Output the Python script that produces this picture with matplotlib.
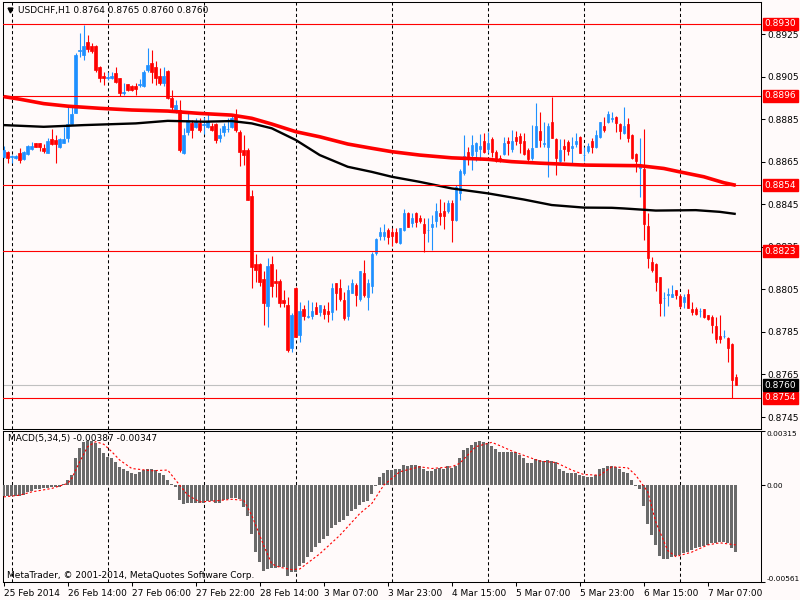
import matplotlib
matplotlib.use("Agg")
import matplotlib.pyplot as plt
import matplotlib.transforms as mtrans
import numpy as np

plt.rcParams['font.family'] = ['DejaVu Sans']

# ---------------- data (USDCHF H1, bars from 25 Feb 2014 22:00) ----------------
opens = [
    .88674, .88698, .88673, .88666, .88690, .88663, .88685, .88710, .88738, .88738,
    .88715, .88693, .88756, .88753, .88720, .88741, .88763, .88828, .88881, .89170,
    .89155, .89215, .89195, .89195, .89097, .89055, .89045, .89043, .89066, .89043,
    .88972, .89014, .89008, .89008, .89012, .89008, .89082, .89116, .89097, .89054,
    .89019, .89077, .88949, .88894, .88894, .88690, .88792, .88831, .88815, .88831,
    .88825, .88815, .88820, .88826, .88761, .88792, .88803, .88815, .88870, .88792,
    .88705, .88705, .88489, .88169, .88169, .88099, .87972, .88169, .88091, .88091,
    .88000, .87977, .87776, .88055, .87835, .87958, .87922, .87926, .87966, .87945,
    .87958, .87948, .87945, .88079, .88055, .88000, .87926, .88034, .88071, .88005,
    .88126, .88016, .88066, .88220, .88303, .88303, .88329, .88318, .88318, .88267,
    .88329, .88411, .88364, .88408, .88384, .88357, .88328, .88345, .88373, .88408,
    .88419, .88419, .88455, .88376, .88502, .88596, .88698, .88682, .88702, .88709,
    .88748, .88709, .88757, .88698, .88666, .88685, .88748, .88709, .88768, .88773,
    .88748, .88705, .88666, .88721, .88795, .88736, .88721, .88836, .88757, .88655,
    .88724, .88742, .88713, .88734, .88765, .88681, .88701, .88748, .88721, .88768,
    .88818, .88836, .88854, .88862, .88826, .88784, .88826, .88776, .88685, .88622,
    .88616, .88348, .88180, .88169, .88110, .88010, .88026, .88016, .88047, .88019,
    .87989, .88028, .87958, .87958, .87947, .87958, .87929, .87919, .87879, .87832,
    .87831, .87823, .87792, .87640]
highs = [
    .88726, .88701, .88682, .88682, .88713, .88701, .88729, .88745, .88741, .88741,
    .88732, .88760, .88804, .88776, .88760, .88815, .88909, .88914, .89160, .89254,
    .89293, .89246, .89207, .89198, .89100, .89074, .89074, .89074, .89097, .89046,
    .89019, .89017, .89011, .89019, .89040, .89082, .89187, .89176, .89124, .89090,
    .89097, .89082, .88988, .88941, .88941, .88808, .88886, .88847, .88855, .88855,
    .88862, .88878, .88831, .88831, .88808, .88831, .88855, .88870, .88898, .88800,
    .88776, .88713, .88517, .88216, .88173, .88136, .88199, .88207, .88146, .88099,
    .88047, .88016, .87937, .88060, .87989, .87977, .88000, .87989, .87989, .87977,
    .87977, .87989, .88079, .88079, .88097, .88036, .88071, .88097, .88081, .88136,
    .88188, .88097, .88227, .88290, .88345, .88357, .88337, .88337, .88337, .88340,
    .88427, .88415, .88408, .88415, .88400, .88384, .88384, .88400, .88455, .88474,
    .88462, .88470, .88470, .88541, .88615, .88776, .88721, .88776, .88745, .88779,
    .88787, .88792, .88765, .88705, .88682, .88768, .88768, .88800, .88795, .88784,
    .88787, .88713, .88823, .88925, .88886, .88839, .88831, .88953, .88761, .88756,
    .88756, .88753, .88768, .88784, .88771, .88721, .88740, .88761, .88800, .88839,
    .88862, .88889, .88886, .88867, .88831, .88906, .88857, .88779, .88690, .88761,
    .88804, .88408, .88204, .88173, .88110, .88039, .88055, .88071, .88047, .88027,
    .88027, .88050, .87992, .87969, .87961, .87958, .87929, .87929, .87922, .87929,
    .87859, .87827, .87796, .87650]
lows = [
    .88666, .88643, .88643, .88663, .88643, .88658, .88682, .88705, .88718, .88701,
    .88690, .88690, .88729, .88643, .88713, .88737, .88745, .88823, .88878, .89145,
    .89129, .89168, .89160, .89074, .89024, .89011, .89034, .89038, .89019, .88961,
    .88964, .88985, .88985, .88964, .89003, .89003, .89074, .89021, .89011, .89011,
    .89007, .88945, .88884, .88878, .88698, .88685, .88776, .88763, .88808, .88792,
    .88779, .88808, .88795, .88737, .88745, .88773, .88792, .88808, .88792, .88632,
    .88635, .88470, .88055, .88086, .88066, .87883, .87875, .88016, .88016, .87966,
    .87966, .87757, .87757, .87827, .87804, .87906, .87914, .87909, .87934, .87926,
    .87909, .87898, .87906, .87953, .87995, .87906, .87906, .88032, .87972, .87995,
    .88016, .87953, .88032, .88212, .88282, .88282, .88263, .88255, .88267, .88263,
    .88326, .88342, .88345, .88345, .88361, .88224, .88274, .88235, .88345, .88353,
    .88334, .88411, .88274, .88372, .88470, .88588, .88635, .88612, .88655, .88658,
    .88690, .88690, .88674, .88650, .88650, .88682, .88682, .88698, .88729, .88690,
    .88682, .88655, .88658, .88721, .88721, .88721, .88577, .88761, .88588, .88640,
    .88655, .88682, .88643, .88721, .88690, .88655, .88690, .88690, .88713, .88763,
    .88792, .88831, .88839, .88792, .88756, .88779, .88742, .88662, .88603, .88486,
    .88282, .88152, .88133, .88042, .87925, .87926, .87973, .88016, .88005, .87961,
    .87964, .87961, .87929, .87929, .87922, .87917, .87906, .87846, .87796, .87796,
    .87820, .87710, .87540, .87600]
closes = [
    .88705, .88666, .88676, .88677, .88658, .88698, .88726, .88726, .88721, .88718,
    .88701, .88749, .88735, .88732, .88757, .88757, .88828, .88876, .89155, .89174,
    .89195, .89181, .89171, .89082, .89043, .89043, .89050, .89054, .89024, .88972,
    .88977, .88988, .88988, .88995, .89016, .89074, .89105, .89074, .89043, .89022,
    .89054, .88952, .88908, .88917, .88705, .88776, .88847, .88800, .88839, .88800,
    .88827, .88842, .88800, .88753, .88776, .88820, .88805, .88855, .88800, .88695,
    .88682, .88470, .88157, .88141, .88086, .87987, .88160, .88067, .88079, .87987,
    .87987, .87765, .87929, .87827, .87948, .87926, .87925, .87948, .87934, .87977,
    .87934, .87934, .88055, .88034, .88005, .87914, .88047, .88079, .88024, .88136,
    .88024, .88079, .88216, .88287, .88318, .88318, .88295, .88303, .88271, .88337,
    .88408, .88345, .88384, .88366, .88373, .88317, .88330, .88357, .88420, .88395,
    .88395, .88456, .88376, .88532, .88607, .88677, .88674, .88729, .88737, .88724,
    .88698, .88737, .88698, .88655, .88655, .88740, .88737, .88748, .88749, .88737,
    .88687, .88662, .88713, .88818, .88753, .88738, .88818, .88761, .88666, .88705,
    .88709, .88702, .88724, .88749, .88690, .88683, .88724, .88721, .88776, .88836,
    .88800, .88873, .88856, .88831, .88795, .88818, .88763, .88666, .88654, .88635,
    .88356, .88196, .88141, .88086, .87987, .88012, .88028, .88028, .88024, .87972,
    .88013, .87964, .87945, .87934, .87949, .87919, .87909, .87883, .87817, .87817,
    .87833, .87776, .87624, .87600]

# moving averages, read at sample bars
ma_red_idx = [0, 4, 10, 16, 24, 32, 41, 49, 57, 62, 67, 73, 79, 86, 92, 97, 104,
              112, 121, 127, 134, 145, 159, 165, 169, 175, 180, 183]
ma_red_val = [.88957, .88945, .88924, .88912, .88902, .88894, .88889, .88878, .88870,
              .88855, .88828, .88792, .88768, .88734, .88714, .88698, .88682, .88669,
              .88662, .88651, .88644, .88635, .88632, .88619, .88603, .88580, .88552,
              .88540]
ma_blk_idx = [0, 10, 20, 33, 41, 50, 57, 62, 67, 73, 79, 86, 92, 97, 104, 112, 121,
              130, 137, 145, 152, 155, 163, 173, 179, 183]
ma_blk_val = [.88823, .88815, .88823, .88831, .88843, .88839, .88842, .88831, .88808,
              .88753, .88682, .88627, .88603, .88580, .88556, .88525, .88502, .88473,
              .88447, .88435, .88434, .88431, .88421, .88423, .88415, .88405]

# MACD(5,34,5) main histogram, one value per bar
macd_hist = [
    -.00064, -.00064, -.00064, -.00064, -.00062, -.00055, -.00039, -.00031, -.00025, -.00023,
    -.00019, -.00016, -.00012, -.00012, -.00008, .00008, .00029, .00062, .00156, .00214,
    .00253, .00257, .00257, .00243, .00214, .00185, .00165, .00156, .00132, .00107,
    .00097, .00082, .00068, .00064, .00074, .00088, .00097, .00097, .00088, .00072,
    .00062, .00029, .00006, -.00010, -.00088, -.00111, -.00101, -.00101, -.00101, -.00101,
    -.00101, -.00093, -.00093, -.00103, -.00101, -.00088, -.00082, -.00074, -.00074, -.00082,
    -.00127, -.00179, -.00282, -.00389, -.00448, -.00500, -.00487, -.00483, -.00483, -.00477,
    -.00477, -.00530, -.00506, -.00502, -.00471, -.00452, -.00419, -.00389, -.00360, -.00335,
    -.00312, -.00296, -.00249, -.00230, -.00214, -.00201, -.00179, -.00152, -.00136, -.00113,
    -.00097, -.00093, -.00049, -.00004, .00049, .00072, .00088, .00088, .00093, .00097,
    .00117, .00113, .00117, .00117, .00113, .00093, .00082, .00082, .00097, .00101,
    .00097, .00113, .00101, .00113, .00156, .00204, .00218, .00234, .00253, .00257,
    .00253, .00243, .00230, .00210, .00191, .00195, .00195, .00195, .00191, .00175,
    .00156, .00130, .00130, .00152, .00146, .00140, .00146, .00140, .00132, .00092,
    .00082, .00072, .00072, .00072, .00058, .00053, .00045, .00049, .00062, .00092,
    .00101, .00113, .00113, .00107, .00097, .00078, .00068, .00029, -.00004, -.00025,
    -.00121, -.00224, -.00292, -.00350, -.00409, -.00428, -.00428, -.00419, -.00413, -.00405,
    -.00393, -.00386, -.00374, -.00366, -.00360, -.00354, -.00347, -.00335, -.00335, -.00331,
    -.00331, -.00335, -.00366, -.00387]
# MACD signal line, read at sample bars
sig_idx = [0, 4, 7, 12, 16, 17, 19, 21, 23, 25, 27, 29, 32, 37, 41, 43, 46, 49, 52,
           57, 60, 62, 65, 67, 69, 72, 74, 79, 84, 89, 92, 95, 99, 104, 107, 112, 114,
           118, 122, 124, 127, 131, 134, 138, 142, 145, 149, 152, 156, 158, 161, 163,
           166, 168, 172, 176, 179, 183]
sig_val = [-.00068, -.00058, -.00039, -.00019, .00010, .00039, .00136, .00224, .00253,
           .00238, .00195, .00146, .00097, .00084, .00088, .00029, -.00058, -.00097,
           -.00093, -.00082, -.00088, -.00175, -.00350, -.00458, -.00477, -.00491,
           -.00487, -.00399, -.00292, -.00165, -.00107, .00000, .00078, .00107, .00097,
           .00107, .00127, .00224, .00249, .00230, .00199, .00165, .00140, .00132,
           .00088, .00062, .00058, .00107, .00101, .00058, -.00039, -.00214, -.00380,
           -.00415, -.00389, -.00347, -.00335, -.00347]

price_ticks = [0.8925, 0.8905, 0.8885, 0.8865, 0.8845, 0.8825, 0.8805, 0.8785, 0.8765, 0.8745]
level_lines = [0.8930, 0.8896, 0.8854, 0.8823, 0.8754]
bid_price = 0.8760
day_starts = [2, 26, 50, 73, 97, 121, 145, 169]
date_tick_idx = [0, 16, 32, 48, 64, 80, 96, 112, 128, 144, 160, 176]
date_tick_labels = ["25 Feb 2014", "26 Feb 14:00", "27 Feb 06:00", "27 Feb 22:00",
                    "28 Feb 14:00", "3 Mar 07:00", "3 Mar 23:00", "4 Mar 15:00",
                    "5 Mar 07:00", "5 Mar 23:00", "6 Mar 15:00", "7 Mar 07:00"]
macd_ticks = [0.00315, 0.0, -0.00561]
macd_tick_labels = ["0.00315", "0.00", "-0.00561"]

# ---------------- drawing ----------------
BG = '#FFFAFA'
BULL = '#1E90FF'
BEAR = '#FF0000'
FS = 6.5

fig = plt.figure(figsize=(8, 6), dpi=100, facecolor=BG)
ax = fig.add_axes([3 / 800, 1 - 428.7 / 600, 758 / 800, 426.7 / 600], facecolor=BG)
axm = fig.add_axes([3 / 800, 1 - 581.7 / 600, 758 / 800, 150.7 / 600], facecolor=BG)

o = np.array(opens); h = np.array(highs); l = np.array(lows); c = np.array(closes)
x = np.arange(len(o))
cols = np.where(c >= o, BULL, BEAR)

for d in day_starts:
    ax.axvline(d, color='black', lw=0.75, ls=(0, (3, 2.5)), zorder=1)
    axm.axvline(d, color='black', lw=0.75, ls=(0, (3, 2.5)), zorder=1)

ax.vlines(x, l, h, colors=cols, lw=0.8, zorder=3)
ax.bar(x, np.abs(c - o), width=0.62, bottom=np.minimum(o, c), color=cols,
       edgecolor=cols, linewidth=0.5, zorder=4)

ax.plot(ma_blk_idx, ma_blk_val, color='black', lw=1.7, zorder=5, solid_capstyle='butt')
ax.plot(ma_red_idx, ma_red_val, color='#FF0000', lw=2.6, zorder=5, solid_capstyle='butt')

for v in level_lines:
    ax.axhline(v, color='#FF0000', lw=0.8, zorder=6)
ax.axhline(bid_price, color='#C0C0C0', lw=0.8, zorder=2)

ax.set_xlim(-0.175, 189.3)
ax.set_ylim(0.87395, 0.89402)
ax.set_xticks([])
ax.yaxis.tick_right()
ax.set_yticks(price_ticks)
ax.set_yticklabels([f"{v:.4f}" for v in price_ticks])
ax.tick_params(axis='y', length=3, width=0.75, pad=1.5, labelsize=FS, colors='black')

tr = mtrans.blended_transform_factory(ax.transAxes, ax.transData)
for v in level_lines:
    ax.text(1.0045, v, f"{v:.4f}", transform=tr, va='center', ha='left', color='white',
            fontsize=FS, zorder=10, clip_on=False,
            bbox=dict(boxstyle='square,pad=0.18', fc='#FF0000', ec='#FF0000'))
ax.text(1.0045, bid_price, f"{bid_price:.4f}", transform=tr, va='center', ha='left',
        color='white', fontsize=FS, zorder=10, clip_on=False,
        bbox=dict(boxstyle='square,pad=0.18', fc='black', ec='black'))

# title
ax.plot([0.0086], [0.981], marker='v', ms=3.5, color='black', transform=ax.transAxes,
        clip_on=False)
ax.text(0.0198, 0.981, f"USDCHF,H1 {opens[-1]:.4f} {highs[-1]:.4f} {lows[-1]:.4f} {closes[-1]:.4f}",
        transform=ax.transAxes, va='center', ha='left', fontsize=FS, color='black')

# MACD panel
axm.bar(x, macd_hist, width=0.7, color='#6A6A6A', zorder=3)
axm.plot(sig_idx, sig_val, color='#FF0000', lw=0.8, ls=(0, (2, 2)), zorder=4)
axm.set_xlim(-0.175, 189.3)
axm.set_ylim(-0.00561, 0.00315)
axm.yaxis.tick_right()
axm.set_yticks(macd_ticks)
axm.set_yticklabels(macd_tick_labels)
axm.tick_params(axis='y', length=3, width=0.75, pad=0.8, labelsize=5.3, colors='black')
ylabs = axm.get_yticklabels()
ylabs[0].set_va('top')
ylabs[2].set_va('bottom')
axm.set_xticks(date_tick_idx)
axm.set_xticklabels(date_tick_labels, ha='left')
axm.tick_params(axis='x', length=3, width=0.75, pad=2, labelsize=FS, colors='black')

axm.text(0.0066, 0.947, f"MACD(5,34,5) {macd_hist[-1]:.5f} {sig_val[-1]:.5f}",
         transform=axm.transAxes, va='center', ha='left', fontsize=FS, color='black')
axm.text(0.0053, 0.044, "MetaTrader, \u00a9 2001-2014, MetaQuotes Software Corp.",
         transform=axm.transAxes, va='center', ha='left', fontsize=FS, color='black')

for a in (ax, axm):
    for s in a.spines.values():
        s.set_color('black')
        s.set_linewidth(0.75)

fig.savefig("out.png", dpi=100, facecolor=BG)
